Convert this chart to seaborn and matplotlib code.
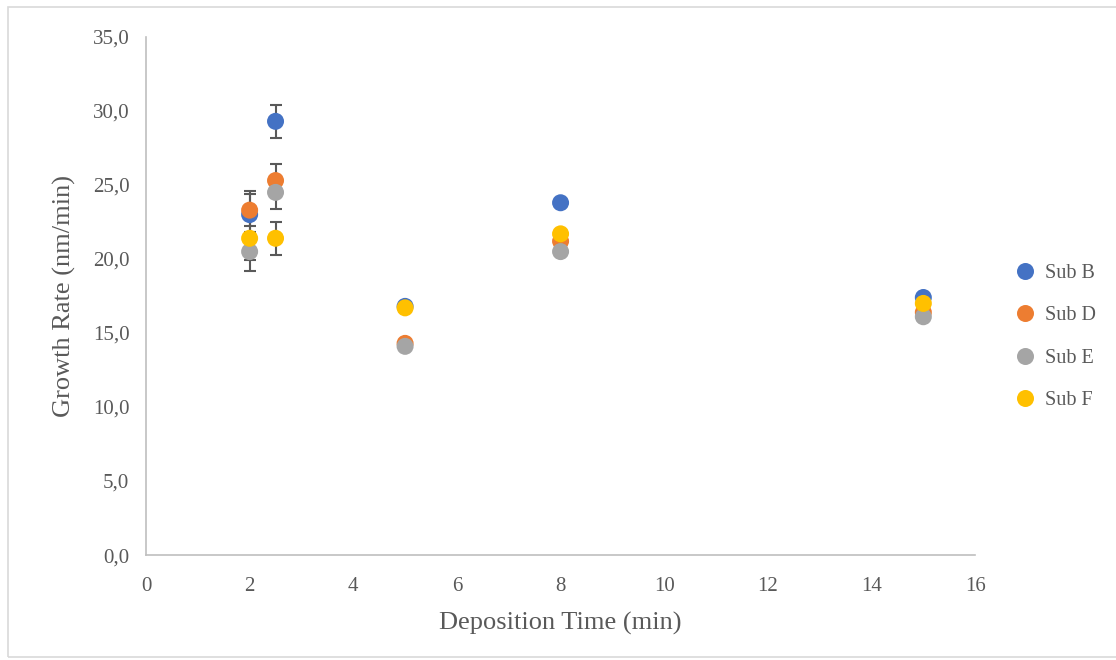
import pandas as pd
import matplotlib.pyplot as plt
import seaborn as sns
from matplotlib.ticker import FuncFormatter, MultipleLocator
from matplotlib.patches import Rectangle

# Nilai dibaca dari grafik referensi
waktu = [2, 2.5, 5, 8, 15]
sub_b = [23.0, 29.3, 16.8, 23.8, 17.4]
sub_d = [23.3, 25.3, 14.3, 21.2, 16.4]
sub_e = [20.5, 24.5, 14.1, 20.5, 16.1]
sub_f = [21.4, 21.4, 16.7, 21.7, 17.0]

# error bar hanya untuk t = 2 dan t = 2.5
err_b = [1.6, 1.1, 0, 0, 0]
err_d = [1.1, 1.1, 0, 0, 0]
err_e = [1.3, 1.1, 0, 0, 0]
err_f = [1.5, 1.1, 0, 0, 0]

seri = ["Sub B", "Sub D", "Sub E", "Sub F"]
warna = ["#4472C4", "#ED7D31", "#A5A5A5", "#FFC000"]

nilai = [sub_b, sub_d, sub_e, sub_f]
galat = [err_b, err_d, err_e, err_f]

rows = []
for nama, ys, es in zip(seri, nilai, galat):
    for x, y, e in zip(waktu, ys, es):
        rows.append({"waktu": x, "rate": y, "err": e, "seri": nama})
df = pd.DataFrame(rows)

sns.set_style("white")
plt.rcParams['font.family'] = ['Liberation Serif', 'DejaVu Serif']

fig = plt.figure(figsize=(11.16, 6.6), dpi=100)
ax = fig.add_axes([0.1308, 0.159, 0.743, 0.785])

# error bar digambar di bawah marker
for nama in seri:
    d = df[(df.seri == nama) & (df.err > 0)]
    ax.errorbar(d.waktu, d.rate, yerr=d.err, fmt='none', ecolor='#595959',
                elinewidth=1.5, capsize=4.5, capthick=1.5, zorder=1)

sns.scatterplot(data=df, x="waktu", y="rate", hue="seri", palette=warna,
                s=150, edgecolor='none', ax=ax, zorder=3)

ax.set_xlim(0, 16)
ax.set_ylim(0, 35)
ax.xaxis.set_major_locator(MultipleLocator(2))
ax.yaxis.set_major_locator(MultipleLocator(5))
ax.yaxis.set_major_formatter(FuncFormatter(lambda v, p: f"{v:.1f}".replace('.', ',')))

for s in ["top", "right"]:
    ax.spines[s].set_visible(False)
for s in ["left", "bottom"]:
    ax.spines[s].set_color('#BFBFBF')
    ax.spines[s].set_linewidth(1.2)

ax.tick_params(axis='y', length=0, labelsize=15, labelcolor='#595959', pad=12)
ax.tick_params(axis='x', length=0, labelsize=15, labelcolor='#595959', pad=16)
ax.set_xlabel("Deposition Time (min)", fontsize=19, color='#595959', labelpad=11)
ax.set_ylabel("Growth Rate (nm/min)", fontsize=19, color='#595959', labelpad=12)

leg = ax.legend(loc='center left', bbox_to_anchor=(1.014, 0.421), frameon=False,
                fontsize=14.5, labelspacing=1.15, handletextpad=0.0, markerscale=1.0)
for t in leg.get_texts():
    t.set_color('#595959')

fig.patches.append(Rectangle((0.007, 0.004), 1.2, 0.985, transform=fig.transFigure,
                             fill=False, edgecolor='#D9D9D9', linewidth=1.2))

fig.savefig("out.png", dpi=100)
